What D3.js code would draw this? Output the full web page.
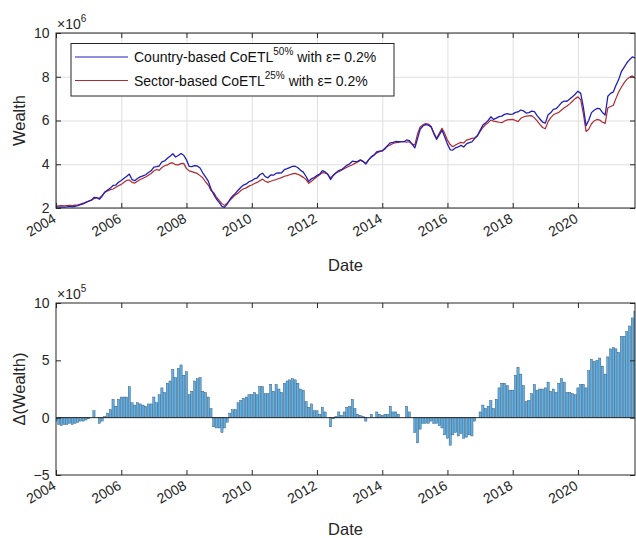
<!DOCTYPE html>
<html>
<head>
<meta charset="utf-8">
<script src="https://cdn.jsdelivr.net/npm/d3@7"></script>
<style>
  body { margin: 0; background: #fff; }
  svg { display: block; }
  text { font-family: "Liberation Sans", Arial, Helvetica, sans-serif; }
</style>
</head>
<body>
<svg id="chart" width="636" height="538"></svg>
<script>
// Monthly observations, January 2004 to October 2021
const firstMonth = new Date(2004, 0, 1);
const lastMonth = new Date(2021, 9, 1);

// Portfolio wealth, in units of 10^6
const sectorWealth = [
  2.08, 2.10, 2.11, 2.10, 2.11, 2.12, 2.11, 2.13, 2.15, 2.18, 2.22, 2.27, 2.32,
  2.36, 2.42, 2.47, 2.45, 2.58, 2.72, 2.78, 2.84, 2.87, 2.95, 3.02,
  3.08, 3.18, 3.26, 3.28, 3.17, 3.14, 3.22, 3.30, 3.36, 3.42, 3.50, 3.58,
  3.69, 3.76, 3.72, 3.85, 3.93, 3.97, 4.05, 4.06, 3.98, 3.97, 4.03, 4.04,
  3.80, 3.70, 3.66, 3.62, 3.58, 3.48, 3.38, 3.20, 3.05, 2.80, 2.70, 2.50,
  2.35, 2.20, 2.12, 2.22, 2.35, 2.48, 2.60, 2.68, 2.80, 2.88, 2.92, 3.00,
  3.05, 3.12, 3.17, 3.25, 3.32, 3.22, 3.17, 3.22, 3.27, 3.30, 3.35, 3.39,
  3.45, 3.48, 3.52, 3.56, 3.58, 3.54, 3.48, 3.40, 3.30, 3.13, 3.22, 3.33,
  3.43, 3.52, 3.62, 3.60, 3.54, 3.38, 3.50, 3.60, 3.66, 3.73, 3.80, 3.86,
  3.92, 3.98, 4.04, 4.10, 4.18, 4.12, 4.04, 4.20, 4.32, 4.42, 4.52, 4.57,
  4.60, 4.70, 4.82, 4.88, 4.95, 4.99, 5.00, 5.03, 5.03, 5.01, 5.03, 4.92,
  4.88, 5.40, 5.70, 5.80, 5.86, 5.84, 5.74, 5.45, 5.19, 5.41, 5.64, 5.41,
  5.10, 4.90, 4.80, 4.88, 4.95, 5.00, 4.97, 5.10, 5.14, 5.18, 5.21, 5.30,
  5.50, 5.68, 5.80, 5.90, 6.02, 5.97, 5.95, 5.92, 5.90, 5.98, 6.03, 6.04,
  6.05, 6.00, 5.95, 6.10, 6.16, 6.20, 6.21, 6.22, 6.12, 5.98, 5.82, 5.68,
  5.62, 5.95, 6.12, 6.26, 6.32, 6.37, 6.48, 6.58, 6.66, 6.76, 6.88, 7.00,
  7.08, 6.95, 6.33, 5.50, 5.60, 5.85, 5.98, 6.05, 6.02, 5.92, 5.87, 6.58,
  6.64, 6.70, 7.00, 7.30, 7.52, 7.72, 7.88, 7.98, 8.04, 7.93
];

const countryWealth = [
  2.05, 2.04, 2.04, 2.04, 2.05, 2.07, 2.05, 2.08, 2.11, 2.15, 2.19, 2.25, 2.31,
  2.36, 2.48, 2.47, 2.40, 2.55, 2.73, 2.82, 2.91, 3.03, 3.05, 3.18,
  3.26, 3.36, 3.44, 3.55, 3.30, 3.25, 3.35, 3.42, 3.47, 3.52, 3.62, 3.70,
  3.87, 3.89, 3.92, 4.11, 4.15, 4.27, 4.37, 4.48, 4.33, 4.40, 4.49, 4.41,
  4.20, 3.90, 3.89, 3.94, 3.92, 3.83, 3.61, 3.42, 3.23, 2.88, 2.62, 2.41,
  2.26, 2.07, 2.03, 2.18, 2.39, 2.55, 2.67, 2.81, 2.95, 3.05, 3.10, 3.20,
  3.25, 3.34, 3.37, 3.52, 3.59, 3.43, 3.38, 3.51, 3.50, 3.59, 3.60, 3.61,
  3.75, 3.80, 3.85, 3.90, 3.91, 3.84, 3.73, 3.64, 3.44, 3.22, 3.34, 3.39,
  3.49, 3.55, 3.71, 3.65, 3.54, 3.30, 3.49, 3.61, 3.71, 3.75, 3.85, 3.95,
  4.02, 4.14, 4.12, 4.13, 4.20, 4.13, 4.01, 4.20, 4.35, 4.42, 4.57, 4.60,
  4.62, 4.73, 4.85, 4.98, 5.00, 5.04, 5.03, 5.03, 5.03, 5.11, 5.08, 4.92,
  4.75, 5.18, 5.60, 5.75, 5.81, 5.79, 5.71, 5.40, 5.14, 5.34, 5.55, 5.26,
  4.92, 4.66, 4.65, 4.75, 4.79, 4.86, 4.79, 4.93, 4.99, 5.02, 5.18, 5.30,
  5.55, 5.79, 5.88, 6.00, 6.17, 6.05, 6.11, 6.18, 6.20, 6.28, 6.31, 6.28,
  6.29, 6.37, 6.39, 6.48, 6.44, 6.34, 6.36, 6.43, 6.41, 6.22, 6.07, 5.93,
  5.88, 6.26, 6.35, 6.51, 6.54, 6.67, 6.82, 6.89, 6.88, 6.98, 7.09, 7.20,
  7.34, 7.24, 6.62, 5.76, 6.01, 6.36, 6.47, 6.55, 6.54, 6.37, 6.25, 7.11,
  7.24, 7.31, 7.60, 7.87, 8.23, 8.43, 8.63, 8.78, 8.91, 8.86
];

// Country-based minus sector-based wealth, in units of 10^5
const wealthGap = [
  -0.3, -0.6, -0.7, -0.6, -0.6, -0.5, -0.6, -0.5, -0.4, -0.3, -0.3, -0.2, -0.1,
  0.0, 0.6, 0.0, -0.5, -0.3, 0.1, 0.4, 0.7, 1.6, 1.0, 1.6,
  1.8, 1.8, 1.8, 2.7, 1.3, 1.1, 1.3, 1.2, 1.1, 1.0, 1.2, 1.2,
  1.8, 1.3, 2.0, 2.6, 2.2, 3.0, 3.2, 4.2, 3.5, 4.3, 4.6, 3.7,
  4.0, 2.0, 2.3, 3.2, 3.4, 3.5, 2.3, 2.2, 1.8, 0.8, -0.8, -0.9,
  -0.9, -1.3, -0.9, -0.4, 0.4, 0.7, 0.7, 1.3, 1.5, 1.7, 1.8, 2.0,
  2.0, 2.2, 2.0, 2.7, 2.7, 2.1, 2.1, 2.9, 2.3, 2.9, 2.5, 2.2,
  3.0, 3.2, 3.3, 3.4, 3.3, 3.0, 2.5, 2.4, 1.4, 0.9, 1.2, 0.6,
  0.6, 0.3, 0.9, 0.5, 0.0, -0.8, -0.1, 0.1, 0.5, 0.2, 0.5, 0.9,
  1.0, 1.6, 0.8, 0.3, 0.2, 0.1, -0.3, 0.0, 0.3, 0.0, 0.5, 0.3,
  0.2, 0.3, 0.3, 1.0, 0.5, 0.5, 0.3, 0.0, 0.0, 1.0, 0.5, 0.0,
  -1.3, -2.2, -1.0, -0.5, -0.5, -0.5, -0.3, -0.5, -0.5, -0.7, -0.9, -1.5,
  -1.8, -2.4, -1.5, -1.3, -1.6, -1.4, -1.8, -1.7, -1.5, -1.6, -0.3, 0.0,
  0.5, 1.1, 0.8, 1.0, 1.5, 0.8, 1.6, 2.6, 3.0, 3.0, 2.8, 2.4,
  2.4, 3.7, 4.4, 3.8, 2.8, 1.4, 1.5, 2.1, 2.9, 2.4, 2.5, 2.5,
  2.6, 3.1, 2.3, 2.5, 2.2, 3.0, 3.4, 3.1, 2.2, 2.2, 2.1, 2.0,
  2.6, 2.9, 2.9, 2.6, 4.1, 5.1, 4.9, 5.0, 5.2, 4.5, 3.8, 5.3,
  6.0, 6.1, 6.0, 5.7, 7.1, 7.1, 7.5, 8.0, 8.7, 9.3
];

const xTickYears = [2004, 2006, 2008, 2010, 2012, 2014, 2016, 2018, 2020];
const wealthTicks = [2, 4, 6, 8, 10];
const gapTicks = [-5, 0, 5, 10];
const seriesNames = ["Country-based CoETL", "Sector-based CoETL"];
const seriesLevels = ["50%", "25%"];
const seriesSuffix = " with \u03b5= 0.2%";

const months = d3.timeMonth.range(firstMonth, d3.timeMonth.offset(lastMonth, 1));

const axisColor = "#262626";
const countryColor = "#2020b8";
const sectorColor = "#b02a30";

const svg = d3.select("#chart");

const left = 56, right = 635;
const topPanel = { top: 33, bottom: 208, labelGap: 63 };
const botPanel = { top: 303, bottom: 475, labelGap: 60 };

const x = d3.scaleTime().domain([firstMonth, lastMonth]).range([left, right]);
const xTicks = xTickYears.map(y => new Date(y, 0, 1));
const yTop = d3.scaleLinear().domain([2, 10]).range([topPanel.bottom, topPanel.top]);
const yBot = d3.scaleLinear().domain([-5, 10]).range([botPanel.bottom, botPanel.top]);

function clipFor(id, p) {
  svg.append("clipPath").attr("id", id)
    .append("rect").attr("x", left).attr("y", p.top)
    .attr("width", right - left).attr("height", p.bottom - p.top);
}
clipFor("clipTop", topPanel);
clipFor("clipBot", botPanel);

function styleAxis(g) {
  g.select(".domain").remove();
  g.selectAll(".tick line").attr("stroke", axisColor).attr("stroke-width", 1);
  g.selectAll(".tick text").attr("fill", axisColor)
    .style("font-size", "14px")
    .style("font-family", "'Liberation Sans', Arial, sans-serif");
}

function drawFrame(p, yScale, yTicks, exponent) {
  // inward tick marks on all four sides
  svg.append("g").attr("transform", `translate(0,${p.bottom})`)
    .call(d3.axisBottom(x).tickValues(xTicks).tickSize(-5).tickFormat(""))
    .call(styleAxis);
  svg.append("g").attr("transform", `translate(0,${p.top})`)
    .call(d3.axisTop(x).tickValues(xTicks).tickSize(-5).tickFormat(""))
    .call(styleAxis);
  svg.append("g").attr("transform", `translate(${left},0)`)
    .call(d3.axisLeft(yScale).tickValues(yTicks).tickSize(-5).tickPadding(6.5).tickFormat(d3.format("d")))
    .call(styleAxis);
  svg.append("g").attr("transform", `translate(${right},0)`)
    .call(d3.axisRight(yScale).tickValues(yTicks).tickSize(-5).tickFormat(""))
    .call(styleAxis);

  svg.append("rect")
    .attr("x", left).attr("y", p.top)
    .attr("width", right - left).attr("height", p.bottom - p.top)
    .attr("fill", "none").attr("stroke", axisColor).attr("stroke-width", 1);

  // rotated date labels, right-middle anchored under each tick
  svg.append("g").selectAll("text").data(xTicks).join("text")
    .attr("transform", d => `translate(${x(d) - 1.5},${p.bottom + 9}) rotate(-30)`)
    .attr("text-anchor", "end")
    .attr("dy", "0.36em")
    .attr("fill", axisColor)
    .style("font-size", "14px")
    .text(d => d3.timeFormat("%Y")(d));

  // exponent marker above the y axis
  const ex = svg.append("text")
    .attr("x", left + 1).attr("y", p.top - 4)
    .attr("fill", axisColor).style("font-size", "14px");
  ex.append("tspan").text("\u00d710");
  ex.append("tspan").attr("dy", -7).style("font-size", "10px").text(exponent);

  svg.append("text")
    .attr("x", (left + right) / 2).attr("y", p.bottom + p.labelGap)
    .attr("text-anchor", "middle").attr("fill", axisColor)
    .style("font-size", "16.5px").text("Date");
}

// ---------- upper panel: wealth paths ----------
svg.append("g").attr("transform", `translate(0,${topPanel.bottom})`)
  .call(d3.axisBottom(x).tickValues(xTicks).tickSize(-(topPanel.bottom - topPanel.top)).tickFormat(""))
  .call(g => g.select(".domain").remove())
  .call(g => g.selectAll("line").attr("stroke", "#dfdfdf").attr("stroke-width", 1));
svg.append("g").attr("transform", `translate(${left},0)`)
  .call(d3.axisLeft(yTop).tickValues(wealthTicks).tickSize(-(right - left)).tickFormat(""))
  .call(g => g.select(".domain").remove())
  .call(g => g.selectAll("line").attr("stroke", "#dfdfdf").attr("stroke-width", 1));

const line = d3.line().x((d, i) => x(months[i])).y(d => yTop(d));
const lines = svg.append("g").attr("clip-path", "url(#clipTop)");
lines.append("path").datum(sectorWealth)
  .attr("d", line).attr("fill", "none")
  .attr("stroke", sectorColor).attr("stroke-width", 1.2).attr("stroke-linejoin", "round");
lines.append("path").datum(countryWealth)
  .attr("d", line).attr("fill", "none")
  .attr("stroke", countryColor).attr("stroke-width", 1.3).attr("stroke-linejoin", "round");

drawFrame(topPanel, yTop, wealthTicks, "6");

svg.append("text")
  .attr("transform", `translate(25,${(topPanel.top + topPanel.bottom) / 2}) rotate(-90)`)
  .attr("text-anchor", "middle").attr("fill", axisColor)
  .style("font-size", "16.5px").text("Wealth");

// legend
const legend = svg.append("g");
legend.append("rect")
  .attr("x", 71).attr("y", 43.5).attr("width", 323).attr("height", 52.5)
  .attr("fill", "#fff").attr("stroke", axisColor).attr("stroke-width", 1);
[countryColor, sectorColor].forEach((c, k) => {
  const ly = 57 + k * 23.5;
  legend.append("line")
    .attr("x1", 75).attr("x2", 128).attr("y1", ly).attr("y2", ly)
    .attr("stroke", c).attr("stroke-width", 1.2);
  const t = legend.append("text")
    .attr("x", 134).attr("y", ly + 5)
    .attr("fill", "#111").style("font-size", "14px");
  t.append("tspan").text(seriesNames[k]);
  t.append("tspan").attr("dy", -7).style("font-size", "10px").text(seriesLevels[k]);
  t.append("tspan").attr("dy", 7).text(seriesSuffix);
});

// ---------- lower panel: wealth difference ----------
const step = x(months[1]) - x(months[0]);
const barW = step * 0.8;
svg.append("g").attr("clip-path", "url(#clipBot)")
  .selectAll("rect").data(wealthGap).join("rect")
  .attr("x", (d, i) => x(months[i]) - barW / 2)
  .attr("width", barW)
  .attr("y", d => yBot(Math.max(0, d)))
  .attr("height", d => Math.abs(yBot(d) - yBot(0)))
  .attr("fill", "#5eb0e6")
  .attr("stroke", "#2b4a64")
  .attr("stroke-width", 0.4);

svg.append("line")
  .attr("x1", left).attr("x2", right)
  .attr("y1", yBot(0)).attr("y2", yBot(0))
  .attr("stroke", axisColor).attr("stroke-width", 1);

drawFrame(botPanel, yBot, gapTicks, "5");

svg.append("text")
  .attr("transform", `translate(25,${(botPanel.top + botPanel.bottom) / 2}) rotate(-90)`)
  .attr("text-anchor", "middle").attr("fill", axisColor)
  .style("font-size", "16.5px").text("\u0394(Wealth)");
</script>
</body>
</html>
